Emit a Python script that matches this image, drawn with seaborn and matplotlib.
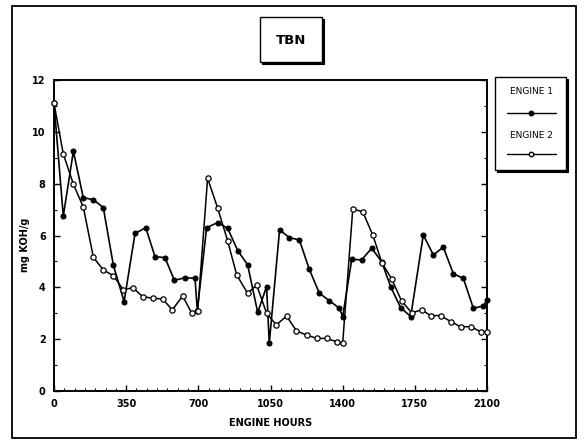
import matplotlib
matplotlib.use("Agg")
import matplotlib.pyplot as plt
from matplotlib.patches import Rectangle
from matplotlib.lines import Line2D
from matplotlib.ticker import MultipleLocator
import seaborn as sns
import pandas as pd

# engine hours / TBN readings
e1_hours = [0, 45, 94, 142, 191, 239, 288, 340, 393, 445, 490, 538, 584, 635, 684, 695,
            740, 794, 842, 891, 939, 988, 1031, 1044, 1094, 1141, 1190, 1238, 1287, 1335,
            1384, 1400, 1444, 1492, 1541, 1589, 1634, 1681, 1730, 1791, 1840, 1888, 1937,
            1985, 2034, 2082, 2100]
e1_tbn = [11.1, 6.75, 9.25, 7.46, 7.38, 7.08, 4.85, 3.45, 6.08, 6.3, 5.18, 5.15, 4.27, 4.37, 4.35, 3.1,
          6.3, 6.5, 6.28, 5.42, 4.87, 3.03, 4.03, 1.84, 6.22, 5.92, 5.83, 4.7, 3.77, 3.49,
          3.19, 2.87, 5.08, 5.06, 5.51, 4.99, 4.0, 3.22, 2.87, 6.02, 5.25, 5.55, 4.52,
          4.35, 3.19, 3.28, 3.51]

e2_hours = [0, 45, 94, 142, 191, 239, 288, 337, 382, 430, 479, 527, 574, 624, 668, 697,
            745, 794, 842, 886, 939, 983, 1031, 1078, 1128, 1176, 1225, 1274, 1322, 1371,
            1400, 1449, 1497, 1546, 1590, 1638, 1686, 1735, 1783, 1827, 1875, 1924, 1972,
            2021, 2069, 2100]
e2_tbn = [11.1, 9.15, 7.98, 7.1, 5.16, 4.67, 4.45, 3.9, 3.99, 3.64, 3.58, 3.55, 3.13, 3.67, 3.0, 3.1,
          8.21, 7.05, 5.8, 4.48, 3.77, 4.09, 3.0, 2.55, 2.89, 2.32, 2.16, 2.03, 2.03, 1.9,
          1.84, 7.02, 6.92, 6.02, 4.95, 4.32, 3.47, 3.02, 3.13, 2.91, 2.91, 2.68, 2.48,
          2.48, 2.29, 2.29]

x_ticks = [0, 350, 700, 1050, 1400, 1750, 2100]
y_ticks = [0, 2, 4, 6, 8, 10, 12]
series_names = ["ENGINE 1", "ENGINE 2"]

sns.set_theme(style="ticks")
plt.rcParams["font.family"] = ["DejaVu Sans"]
plt.rcParams["text.color"] = "black"
plt.rcParams["axes.labelcolor"] = "black"
plt.rcParams["xtick.color"] = "black"
plt.rcParams["ytick.color"] = "black"

W, H = 583, 441
fig = plt.figure(figsize=(W / 100, H / 100), dpi=100)
fig.patch.set_facecolor("white")

def px_box(x0, y0, x1, y1):
    # pixel box (top-left origin) -> figure fraction rect
    return (x0 / W, 1 - y1 / H, (x1 - x0) / W, (y1 - y0) / H)

ax = fig.add_axes(px_box(54, 80, 487, 391))

df1 = pd.DataFrame({"hours": e1_hours, "tbn": e1_tbn})
df2 = pd.DataFrame({"hours": e2_hours, "tbn": e2_tbn})

sns.lineplot(data=df1, x="hours", y="tbn", ax=ax, color="black", lw=1.2,
             marker="o", markersize=3.6, markerfacecolor="black", markeredgecolor="black",
             clip_on=False, zorder=3)
sns.lineplot(data=df2, x="hours", y="tbn", ax=ax, color="black", lw=1.1,
             marker="o", markersize=3.8, markerfacecolor="white", markeredgecolor="black",
             markeredgewidth=0.9, clip_on=False, zorder=4)

ax.set_xlim(0, 2100)
ax.set_ylim(0, 12)
ax.set_xticks(x_ticks)
ax.set_yticks(y_ticks)
ax.xaxis.set_minor_locator(MultipleLocator(50))
ax.yaxis.set_minor_locator(MultipleLocator(1))
ax.tick_params(which="major", direction="in", length=4, width=1, labelsize=7, pad=6,
               colors="black", right=True)
ax.tick_params(which="minor", direction="in", length=2.5, width=0.8, right=True)
for lab in ax.get_xticklabels() + ax.get_yticklabels():
    lab.set_fontweight("bold")
for sp in ax.spines.values():
    sp.set_visible(True)
    sp.set_linewidth(1.4)
    sp.set_color("black")

ax.set_xlabel("ENGINE HOURS", fontsize=7, fontweight="bold", labelpad=6)
ax.set_ylabel("")
fig.text(25 / W, 1 - 245 / H, "mg KOH/g", rotation=90, ha="center", va="center",
         fontsize=7, fontweight="bold")

# outer frame
r = px_box(12, 6, 576, 438)
fig.patches.append(Rectangle(r[:2], r[2], r[3], transform=fig.transFigure,
                             fill=False, edgecolor="black", lw=1.3))

def shadow_box(x0, y0, x1, y1, off=2):
    r = px_box(x0 + off, y0 + off, x1 + off, y1 + off)
    fig.patches.append(Rectangle(r[:2], r[2], r[3], transform=fig.transFigure,
                                 facecolor="black", edgecolor="black", lw=0.8, zorder=5))
    r = px_box(x0, y0, x1, y1)
    fig.patches.append(Rectangle(r[:2], r[2], r[3], transform=fig.transFigure,
                                 facecolor="white", edgecolor="black", lw=1.0, zorder=6))

# title box
shadow_box(260, 17, 322, 62)
fig.text(291 / W, 1 - 40 / H, "TBN", ha="center", va="center", fontsize=9.5,
         fontweight="bold", zorder=7)

# legend box
shadow_box(495, 77, 566, 170)
leg_rows = [(92, 113, "black"), (135, 154, "white")]
for name, (ty, ly, fc) in zip(series_names, leg_rows):
    fig.text(531 / W, 1 - ty / H, name, ha="center", va="center", fontsize=6.5, zorder=7)
    fig.add_artist(Line2D([507 / W, 556 / W], [1 - ly / H, 1 - ly / H], color="black",
                          lw=1.0, transform=fig.transFigure, zorder=7))
    fig.add_artist(Line2D([531 / W], [1 - ly / H], marker="o", markersize=3.2,
                          markerfacecolor=fc, markeredgecolor="black", lw=0,
                          transform=fig.transFigure, zorder=8))

fig.savefig("out.png", dpi=100)
